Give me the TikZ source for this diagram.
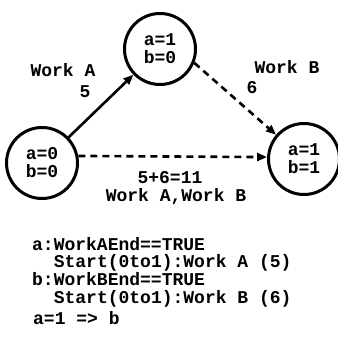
\documentclass[tikz,border=0pt]{standalone}
\usepackage{fontspec}
\setmonofont{Liberation Mono}
\usetikzlibrary{arrows.meta}
\begin{document}
\begin{tikzpicture}[x=1pt,y=-1pt,
  font=\ttfamily\bfseries\fontsize{18}{18}\selectfont,
  >={Triangle[length=10pt,width=8pt]},
  state/.style={draw,circle,line width=3pt,minimum size=71pt,inner sep=0pt,align=center},
  trans/.style={->,line width=2.6pt},
  later/.style={trans,dash pattern=on 7pt off 5pt}]
  \useasboundingbox (0,0) rectangle (338,338);

  % Draw states
  \node [state] (s00) at (42,163) {a=0\\b=0};
  \node [state] (s10) at (160,49) {a=1\\b=0};
  \node [state] (s11) at (304,159) {a=1\\b=1};

  % Draw and label transitions
  \draw [trans] (s00) -- (s10);
  \draw [later] (s10.-22) -- (s11.139);
  \draw [later] (s00.11) -- (s11.177);
  \node (wa) at (63,70) {Work A};
  \node (ca) at (85,92) {5};
  \node (wb) at (287,67) {Work B};
  \node (cb) at (252,88) {6};
  \node (cab) at (170,178) {5+6=11};
  \node (wab) at (176,197) {Work A,Work B};

  % Conditions below
  \node [anchor=north west,align=left,inner sep=0pt,
    font=\ttfamily\bfseries\fontsize{18}{17.7}\selectfont] (cond) at (32,237)
    {a:WorkAEnd==TRUE\\\ \ Start(0to1):Work A (5)\\b:WorkBEnd==TRUE\\\ \ Start(0to1):Work B (6)};
  \node [anchor=west,inner sep=0pt] (rule) at (33,318) {a=1 => b};

\end{tikzpicture}
\end{document}
